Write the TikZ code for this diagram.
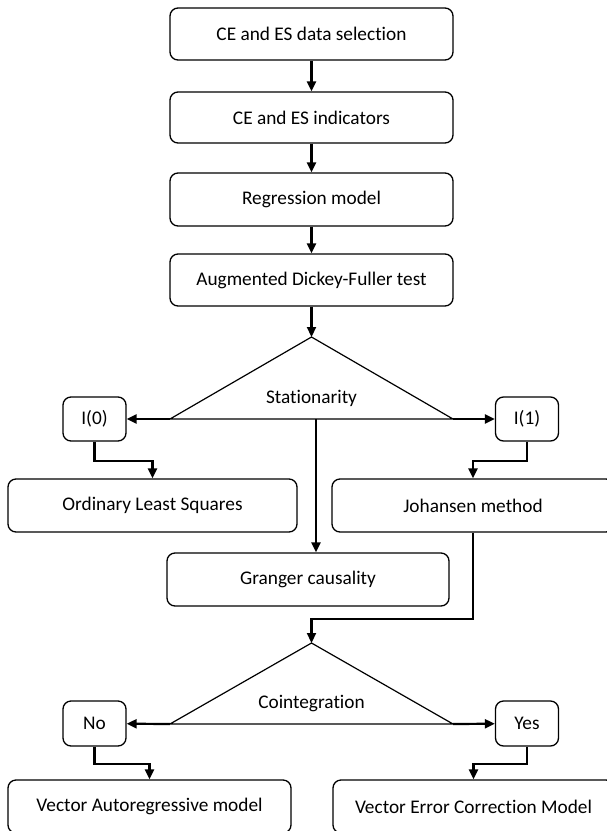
\documentclass[tikz,border=0pt]{standalone}
\usepackage{fontspec}
\setmainfont[Ligatures=NoCommon]{Carlito}
\usetikzlibrary{arrows.meta}
\tikzset{
  stepbox/.style={draw, line width=1.3pt, rounded corners=8pt, minimum width=283pt, minimum height=52pt, inner sep=0pt, font=\fontsize{19.3}{22}\selectfont},
  smallbox/.style={draw, line width=1.3pt, rounded corners=8pt, minimum width=63pt, minimum height=44pt, inner sep=0pt, font=\fontsize{19.3}{22}\selectfont},
  conn/.style={line width=2.2pt, -{Triangle[length=10pt,width=9pt]}},
  tri/.style={line width=1.2pt, line join=miter},
  lbl/.style={font=\fontsize{19.3}{22}\selectfont, inner sep=0pt}
}
\begin{document}
\begin{tikzpicture}[x=1pt,y=-1pt]
\useasboundingbox (0,0) rectangle (607,831);
% main boxes
\node[stepbox] (b1) at (311.5,34) {CE and ES data selection};
\node[stepbox, minimum height=51pt] (b2) at (311.5,117.5) {CE and ES indicators};
\node[stepbox, minimum height=53pt] (b3) at (311.5,199.5) {Regression model};
\node[stepbox] (b4) at (311.5,280) {Augmented Dickey-Fuller test};
% stationarity triangle
\coordinate (a1) at (311.5,337);
\coordinate (l1) at (170,419);
\coordinate (r1) at (453,419);
\coordinate (g1) at (316,419);
\draw[tri] (a1) -- (l1) -- (r1) -- cycle;
\node[lbl] (st) at (311.5,398) {Stationarity};
% I(0), I(1)
\node[smallbox] (i0) at (94.5,419) {I(0)};
\node[smallbox] (i1) at (527,419) {I(1)};
% second row
\node[stepbox, minimum width=289pt, minimum height=53pt] (ols) at (152.5,505.5) {Ordinary Least Squares};
\node[stepbox, minimum width=282pt, minimum height=53pt] (joh) at (473,505.5) {Johansen method};
\node[stepbox, minimum width=282pt, minimum height=53pt] (gr) at (308,579.5) {Granger causality};
% cointegration triangle
\coordinate (a2) at (311.5,643);
\coordinate (l2) at (170,724);
\coordinate (r2) at (453,724);
\draw[tri] (a2) -- (l2) -- (r2) -- cycle;
\node[lbl] (co) at (311.5,704) {Cointegration};
\node[smallbox, minimum height=45pt] (no) at (94.5,723.5) {No};
\node[smallbox, minimum height=45pt] (yes) at (527,723.5) {Yes};
% bottom boxes
\node[stepbox, minimum width=283pt, minimum height=53pt] (var) at (149.5,806.5) {Vector Autoregressive model};
\node[stepbox, minimum width=281pt, minimum height=53pt] (vecm) at (473.5,806.5) {Vector Error Correction Model};
% connectors
\draw[conn] (b1) -- (b2);
\draw[conn] (b2) -- (b3);
\draw[conn] (b3) -- (b4);
\draw[conn] (b4) -- (a1);
\draw[conn] (l1) -- (i0);
\draw[conn] (r1) -- (i1);
\draw[conn] (g1) -- (g1 |- gr.north);
\draw[conn] (i0.south) -- ++(0,19) -| (ols.north);
\draw[conn] (i1.south) -- ++(0,19) -| (joh.north);
\draw[conn] (joh.south) -- ++(0,86) -| (a2);
\draw[conn] (l2) -- (no);
\draw[conn] (r2) -- (yes);
\draw[conn] (no.south) -- ++(0,17) -| (var.north);
\draw[conn] (yes.south) -- ++(0,17) -| (vecm.north);
\end{tikzpicture}
\end{document}
